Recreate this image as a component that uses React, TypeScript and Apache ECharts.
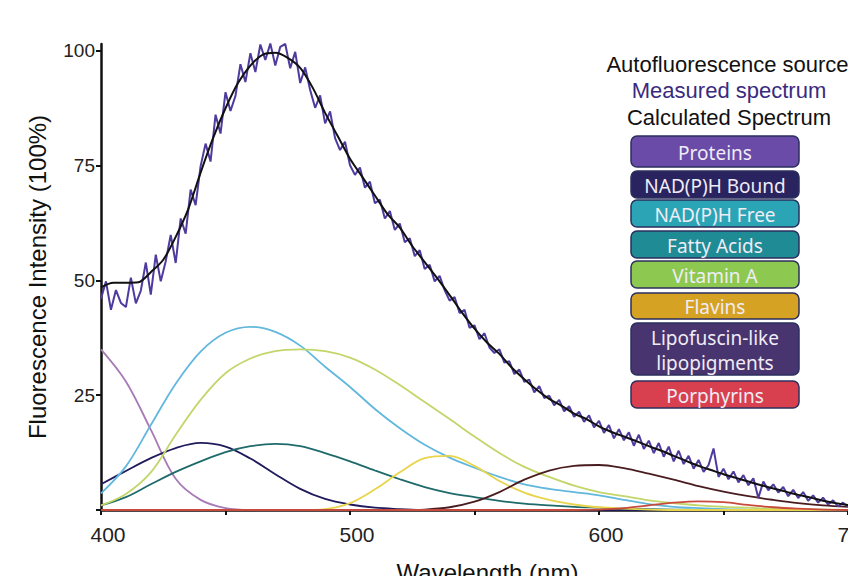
import React, { useEffect, useRef } from "react";
import * as echarts from "echarts";

// ---- Measured spectrum, 400..700 nm every 2 nm ----
const measuredStart = 400;
const measuredStep = 2;
const measured = [
  46.0, 49.8, 43.6, 47.9, 45.1, 44.2, 50.6, 45.0, 47.8, 53.9,
  46.9, 55.6, 49.8, 54.2, 59.9, 53.8, 63.5, 60.2, 69.8, 66.4,
  74.9, 79.8, 75.9, 86.1, 82.0, 91.0, 86.9, 90.2, 97.1, 93.2,
  99.5, 95.4, 101.4, 98.0, 101.6, 96.8, 100.9, 101.5, 96.2, 99.8,
  93.0, 96.4, 91.5, 87.6, 90.3, 84.2, 86.8, 81.0, 78.4, 80.2,
  75.1, 73.0, 74.6, 70.2, 71.5, 66.8, 67.6, 63.5, 65.1, 61.0,
  62.4, 58.3, 59.2, 55.3, 56.6, 52.5, 53.4, 49.8, 51.0, 47.9,
  45.6, 46.4, 42.9, 43.6, 39.7, 40.2, 37.2, 38.5, 35.4, 34.2,
  35.0, 32.1, 32.4, 29.6, 30.6, 27.9, 28.4, 25.6, 27.0, 24.4,
  24.9, 22.8, 24.0, 21.5, 22.6, 20.3, 21.4, 19.2, 20.6, 18.0,
  19.4, 16.8, 18.5, 15.6, 17.6, 15.2, 16.9, 14.0, 16.4, 13.3,
  15.1, 12.4, 14.6, 11.6, 13.8, 10.6, 12.9, 10.0, 11.8, 9.0,
  10.9, 8.3, 9.8, 13.4, 7.2, 9.0, 6.7, 8.4, 6.0, 7.6,
  5.4, 6.9, 2.6, 6.2, 4.3, 5.6, 3.8, 5.0, 3.0, 4.4,
  2.6, 3.9, 2.0, 3.2, 1.6, 2.7, 1.2, 2.1, 0.8, 1.6,
  0.7,
];

// ---- Calculated spectrum, 400..700 nm every 5 nm ----
const calcStart = 400;
const calcStep = 5;
const calculated = [
  48.5, 49.5, 49.5, 49.6, 51.8, 54.5, 59.5, 65.5, 73.5, 81,
  87.5, 93, 96.8, 99.2, 99.6, 98.5, 96.3, 92, 86.5, 81.5,
  76.5, 72.5, 68.5, 64.5, 61.5, 57.5, 54, 50.5, 46.8, 43,
  39.5, 36.5, 34, 31, 28.5, 26.2, 24.2, 22.7, 21, 19.8,
  18.2, 17, 16, 15, 13.9, 12.9, 11.8, 10.7, 9.6, 8.7,
  7.8, 7, 6.2, 5.4, 4.7, 4, 3.3, 2.7, 2, 1.5,
  1.1,
];

// ---- Components, 400..700 nm every 10 nm ----
const compStart = 400;
const compStep = 10;
const proteins = [35, 28, 17.5, 6.8, 2.2, 0.4, 0, 0, 0, 0, 0, 0, 0, 0, 0, 0, 0, 0, 0, 0, 0, 0, 0, 0, 0, 0, 0, 0, 0, 0, 0];
const nadphBound = [5.6, 8.5, 11.3, 13.5, 14.6, 13.8, 11.2, 7.8, 4.6, 2.4, 1.2, 0.5, 0.2, 0, 0, 0, 0, 0, 0, 0, 0, 0, 0, 0, 0, 0, 0, 0, 0, 0, 0];
const nadphFree = [3.6, 9.5, 18.5, 27.5, 34.5, 38.6, 39.9, 38.8, 35.8, 31.2, 26.8, 22, 17.8, 14.2, 11.4, 9.2, 7.2, 5.6, 4.6, 3.9, 3.2, 2.2, 1.3, 0.7, 0.4, 0.2, 0.1, 0, 0, 0, 0];
const fattyAcids = [1, 2.8, 5.6, 8.3, 10.6, 12.6, 13.9, 14.4, 13.9, 12.4, 10.6, 8.6, 6.7, 5.0, 3.7, 2.8, 2.0, 1.4, 1.0, 0.7, 0.5, 0.3, 0.2, 0.1, 0, 0, 0, 0, 0, 0, 0];
const vitaminA = [1, 3.5, 8.2, 16.4, 24.0, 29.8, 33.0, 34.6, 35.0, 34.6, 33.2, 30.6, 27.2, 23.5, 19.8, 16, 12.4, 9.4, 7.2, 5.3, 3.9, 3.0, 2.1, 1.5, 1.0, 0.7, 0.5, 0.3, 0.2, 0.1, 0];
const flavins = [0, 0, 0, 0, 0, 0, 0, 0, 0, 0.2, 1.5, 4.5, 8.2, 11.3, 11.8, 9.6, 6.3, 3.8, 2.2, 1.2, 0.6, 0.3, 0.1, 0, 0, 0, 0, 0, 0, 0, 0];
const lipofuscin = [0, 0, 0, 0, 0, 0, 0, 0, 0, 0, 0, 0, 0, 0.1, 0.6, 1.8, 3.9, 6.6, 8.6, 9.6, 9.8, 9.1, 7.9, 6.6, 5.2, 4.0, 3.0, 2.2, 1.5, 1.0, 0.7];
const porphyrins = [0, 0, 0, 0, 0, 0, 0, 0, 0, 0, 0, 0, 0, 0, 0, 0, 0, 0, 0, 0, 0.1, 0.4, 1.0, 1.6, 1.9, 1.7, 1.1, 0.6, 0.3, 0.1, 0];

const componentNames = ["Proteins", "NAD(P)H Bound", "NAD(P)H Free", "Fatty Acids", "Vitamin A", "Flavins", "Lipofuscin-like lipopigments", "Porphyrins"];
const componentData = [proteins, nadphBound, nadphFree, fattyAcids, vitaminA, flavins, lipofuscin, porphyrins];
const lineColors = ["#a77ab6", "#1f1b5c", "#62b8dc", "#1f6a6a", "#c2d66a", "#e8d44d", "#4a1c20", "#c84a3c"];
const boxColors = ["#6a4ba8", "#29235f", "#2ba5b5", "#1e8b95", "#8dc950", "#d6a224", "#48346e", "#d8404f"];
const boxLabels = ["Proteins", "NAD(P)H Bound", "NAD(P)H Free", "Fatty Acids", "Vitamin A", "Flavins", "Lipofuscin-like\nlipopigments", "Porphyrins"];

const titleLines = ["Autofluorescence sources", "Measured spectrum", "Calculated Spectrum"];
const titleColors = ["#111111", "#3a2a80", "#111111"];

const xTicks = [400, 450, 500, 550, 600, 650, 700];
const xLabels = [400, 500, 600, 700];
const yTicks = [0, 25, 50, 75, 100];
const yLabels = [25, 50, 75, 100];

const toPairs = (arr: number[], start: number, step: number) => arr.map((v, i) => [start + i * step, v]);

export default function App() {
  const ref = useRef<HTMLDivElement>(null);
  useEffect(() => {
    if (!ref.current) return;
    const chart = echarts.init(ref.current, undefined, { renderer: "svg" });

    const boxTops = [136, 171, 200, 231, 261, 293, 323, 381];
    const boxHeights = [31, 27, 27, 27, 27, 26, 52, 27];
    const boxX = 631;
    const boxW = 168;
    const graphics: any[] = [];
    const titleY = [64, 90, 117];
    const titleSize = [22, 22, 22];
    const titleX = [733, 729, 729];
    titleLines.forEach((t, i) => {
      graphics.push({
        type: "text",
        x: titleX[i],
        y: titleY[i],
        style: {
          text: t,
          fill: titleColors[i],
          font: `${titleSize[i]}px "Liberation Sans", Arial, sans-serif`,
          textAlign: "center",
          textVerticalAlign: "middle",
        },
      });
    });
    boxLabels.forEach((lab, i) => {
      graphics.push({
        type: "rect",
        shape: { x: boxX, y: boxTops[i], width: boxW, height: boxHeights[i], r: 6 },
        style: { fill: boxColors[i], stroke: "#2b2f5e", lineWidth: 1.5 },
      });
      graphics.push({
        type: "text",
        x: boxX + boxW / 2,
        y: boxTops[i] + boxHeights[i] / 2 + 1,
        style: {
          text: lab,
          fill: "#f0ecf6",
          font: `19px "Noto Sans", "Open Sans", sans-serif`,
          lineHeight: 25,
          textAlign: "center",
          textVerticalAlign: "middle",
        },
      });
    });

    const series: any[] = componentNames.map((name, i) => ({
      name,
      type: "line",
      data: toPairs(componentData[i], compStart, compStep),
      smooth: 0.35,
      symbol: "none",
      lineStyle: { color: lineColors[i], width: 1.8 },
      z: 2,
    }));
    series.push({
      name: "Measured spectrum",
      type: "line",
      data: toPairs(measured, measuredStart, measuredStep),
      symbol: "none",
      lineStyle: { color: "#4f3a9e", width: 2 },
      z: 3,
    });
    series.push({
      name: "Calculated Spectrum",
      type: "line",
      data: toPairs(calculated, calcStart, calcStep),
      smooth: 0.3,
      symbol: "none",
      lineStyle: { color: "#111111", width: 2 },
      z: 4,
    });

    chart.setOption({
      animation: false,
      backgroundColor: "#ffffff",
      grid: { left: 101, right: 0, top: 44, bottom: 66, containLabel: false, outerBoundsMode: "none" },
      xAxis: {
        type: "value",
        min: 400,
        max: 700,
        name: "Wavelength (nm)",
        nameLocation: "middle",
        nameGap: 50,
        nameTextStyle: {
          fontSize: 24,
          color: "#111",
          fontFamily: '"Liberation Sans", Arial, sans-serif',
          padding: [0, 0, 0, 26],
        },
        axisLine: { onZero: false, lineStyle: { color: "#111", width: 2.5 } },
        axisTick: { show: true, length: 5, customValues: xTicks, lineStyle: { color: "#111", width: 2 } },
        axisLabel: {
          customValues: xLabels,
          fontSize: 21,
          color: "#222",
          margin: 14,
          fontFamily: '"Liberation Sans", Arial, sans-serif',
          padding: [0, 0, 0, 14],
        },
        splitLine: { show: false },
      },
      yAxis: {
        type: "value",
        min: 0,
        max: 101.5,
        name: "Fluorescence Intensity (100%)",
        nameLocation: "middle",
        nameGap: 52,
        nameTextStyle: {
          fontSize: 24,
          color: "#111",
          fontFamily: '"Liberation Sans", Arial, sans-serif',
        },
        axisLine: { show: true, lineStyle: { color: "#111", width: 2.5 } },
        axisTick: { show: true, length: 5, customValues: yTicks, lineStyle: { color: "#111", width: 2 } },
        axisLabel: {
          customValues: yLabels,
          fontSize: 19,
          color: "#222",
          margin: 6,
          fontFamily: '"Liberation Sans", Arial, sans-serif',
        },
        splitLine: { show: false },
      },
      series,
      graphic: graphics,
    });
    return () => chart.dispose();
  }, []);
  return (
    <div
      ref={ref}
      style={{ position: "fixed", left: 0, top: 0, width: 848, height: 576, background: "#fff" }}
    />
  );
}
